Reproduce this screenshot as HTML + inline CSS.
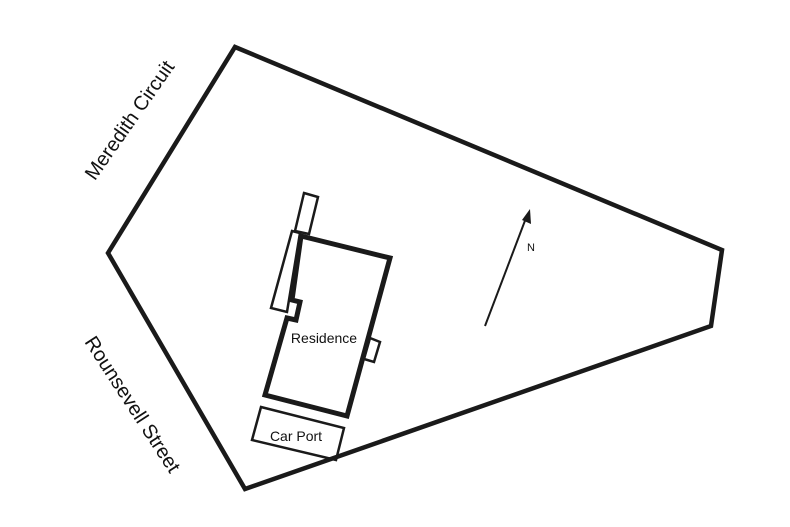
<!DOCTYPE html>
<html><head><style>
html,body{margin:0;padding:0;background:#fff;}
svg{display:block;}
text{font-family:"Liberation Sans",sans-serif;fill:#111;}
</style></head><body>
<svg width="790" height="527" viewBox="0 0 790 527" xmlns="http://www.w3.org/2000/svg">
<polygon points="235,47 722,250 711,326 245,489 108,253" fill="none" stroke="#1a1a1a" stroke-width="4.5" stroke-linejoin="miter"/>
<text x="0" y="0" font-size="20" text-anchor="middle" transform="translate(135,124) rotate(-55)">Meredith Circuit</text>
<text x="0" y="0" font-size="20" text-anchor="middle" transform="translate(127,408) rotate(57)">Rounsevell Street</text>
<!-- annex strip -->
<polygon points="304,193 318,197 309,234 295,231" fill="none" stroke="#1a1a1a" stroke-width="2.5"/>
<polygon points="292,231 300,233 287,312 271,308" fill="none" stroke="#1a1a1a" stroke-width="2.5"/>
<!-- residence -->
<polygon points="301,236 390,258 347,416 265,395 287,318 296,320 300,302 292,300" fill="none" stroke="#1a1a1a" stroke-width="5" stroke-linejoin="miter"/>
<polygon points="370,338 380,342 374,362 364,359" fill="none" stroke="#1a1a1a" stroke-width="2.5"/>
<text x="324" y="343" font-size="14" text-anchor="middle">Residence</text>
<!-- car port -->
<polygon points="261,407 344,428 336,460 252,440" fill="none" stroke="#1a1a1a" stroke-width="2.5"/>
<text x="296" y="441" font-size="14" text-anchor="middle">Car Port</text>
<!-- north arrow -->
<line x1="485" y1="326" x2="526" y2="218" stroke="#1a1a1a" stroke-width="2"/>
<polygon points="530,209 531,224 522,220" fill="#1a1a1a"/>
<text x="527" y="251" font-size="11">N</text>
</svg>
</body></html>
